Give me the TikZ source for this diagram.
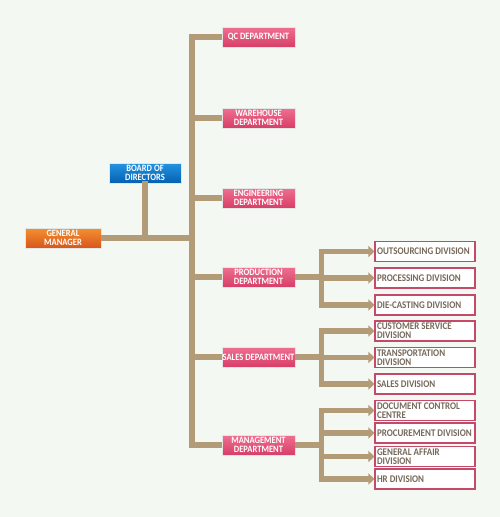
\documentclass[tikz,border=0pt]{standalone}
\usepackage{fontspec}
\setmainfont{Carlito}
\newfontfamily\boxfont[FakeStretch=0.88]{Carlito}
\usetikzlibrary{arrows.meta}
\definecolor{bgc}{HTML}{F4F8F2}
\definecolor{linec}{HTML}{B39B78}
\definecolor{pinkT}{HTML}{EE7090}
\definecolor{pinkB}{HTML}{D73E68}
\definecolor{orgT}{HTML}{F39030}
\definecolor{orgB}{HTML}{D8561C}
\definecolor{bluT}{HTML}{2394E2}
\definecolor{bluB}{HTML}{0660B2}
\definecolor{divborder}{HTML}{C44A68}
\definecolor{divtext}{HTML}{76685A}
\tikzset{
  topbox/.style={rectangle, minimum height=20pt, inner sep=0pt, draw=white!80!gray, line width=0.9pt,
    text=white, align=center, font=\boxfont\bfseries\fontsize{9.7}{8.8}\selectfont,
    execute at begin node={\spaceskip=0.2em plus 0.1em}},
  gmbox/.style={topbox, minimum width=76pt, top color=orgT, bottom color=orgB},
  bdbox/.style={topbox, minimum width=72pt, top color=bluT, bottom color=bluB},
  deptbox/.style={topbox, minimum width=73pt, top color=pinkT, bottom color=pinkB},
  divbox/.style={rectangle, minimum width=100pt, minimum height=20pt, text width=96pt, inner xsep=2pt, inner ysep=0pt,
    draw=divborder, line width=1.1pt, fill=white, text=divtext, align=left,
    execute at begin node={\hyphenpenalty=10000\spaceskip=0.2em plus 0.1em},
    font=\boxfont\bfseries\fontsize{10.2}{8.8}\selectfont},
  conn/.style={draw=linec, line width=5.5pt},
  vbar/.style={conn, line cap=rect},
  arr/.style={conn, -{Triangle[length=6pt,width=11pt]}},
}
\begin{document}
\begin{tikzpicture}[x=1pt,y=-1pt]
\fill[bgc] (0,0) rectangle (500,517);
\useasboundingbox (0,0) rectangle (500,517);

% top-level nodes
\node[gmbox] (gm) at (63,238) {GENERAL\\MANAGER};
\node[bdbox] (bd) at (145,173) {BOARD OF\\DIRECTORS};

% departments
\node[deptbox] (qc)  at (258.5,37)  {QC DEPARTMENT};
\node[deptbox] (wh)  at (258.5,118) {WAREHOUSE\\DEPARTMENT};
\node[deptbox] (eng) at (258.5,198) {ENGINEERING\\DEPARTMENT};
\node[deptbox] (pro) at (258.5,277) {PRODUCTION\\DEPARTMENT};
\node[deptbox] (sal) at (258.5,357) {SALES DEPARTMENT};
\node[deptbox] (man) at (258.5,445) {MANAGEMENT\\DEPARTMENT};

% divisions
\node[divbox] (d1)  at (425,251.5) {OUTSOURCING DIVISION};
\node[divbox] (d2)  at (425,278)   {PROCESSING DIVISION};
\node[divbox] (d3)  at (425,305)   {DIE-CASTING DIVISION};
\node[divbox] (d4)  at (425,331)   {CUSTOMER SERVICE\\DIVISION};
\node[divbox] (d5)  at (425,357.5) {TRANSPORTATION\\DIVISION};
\node[divbox] (d6)  at (425,384)   {SALES DIVISION};
\node[divbox] (d7)  at (425,410.5) {DOCUMENT CONTROL\\CENTRE};
\node[divbox] (d8)  at (425,433)   {PROCUREMENT DIVISION};
\node[divbox] (d9)  at (425,456.5) {GENERAL AFFAIR\\DIVISION};
\node[divbox] (d10) at (425,479)   {HR DIVISION};

% trunk and branch coordinates
\coordinate (tr) at (192,0);
\coordinate (bx) at (321.5,0);

% main trunk
\draw[vbar] (qc.west -| tr) -- (man.west -| tr);
\draw[conn] (gm.east) -- (gm.east -| tr);
\draw[vbar] (bd.south) -- (bd.south |- gm.east);
\foreach \d in {qc,wh,eng,pro,sal,man}
  \draw[conn] (\d.west -| tr) -- (\d.west);

% production branch
\draw[conn] (pro.east) -- (pro.east -| bx);
\draw[vbar] (d1.west -| bx) -- (d3.west -| bx);
\foreach \d in {d1,d2,d3}
  \draw[arr] (\d.west -| bx) -- (\d.west);

% sales branch
\draw[conn] (sal.east) -- (sal.east -| bx);
\draw[vbar] (d4.west -| bx) -- (d6.west -| bx);
\foreach \d in {d4,d5,d6}
  \draw[arr] (\d.west -| bx) -- (\d.west);

% management branch
\draw[conn] (man.east) -- (man.east -| bx);
\draw[vbar] (d7.west -| bx) -- (d10.west -| bx);
\foreach \d in {d7,d8,d9,d10}
  \draw[arr] (\d.west -| bx) -- (\d.west);
\end{tikzpicture}
\end{document}
